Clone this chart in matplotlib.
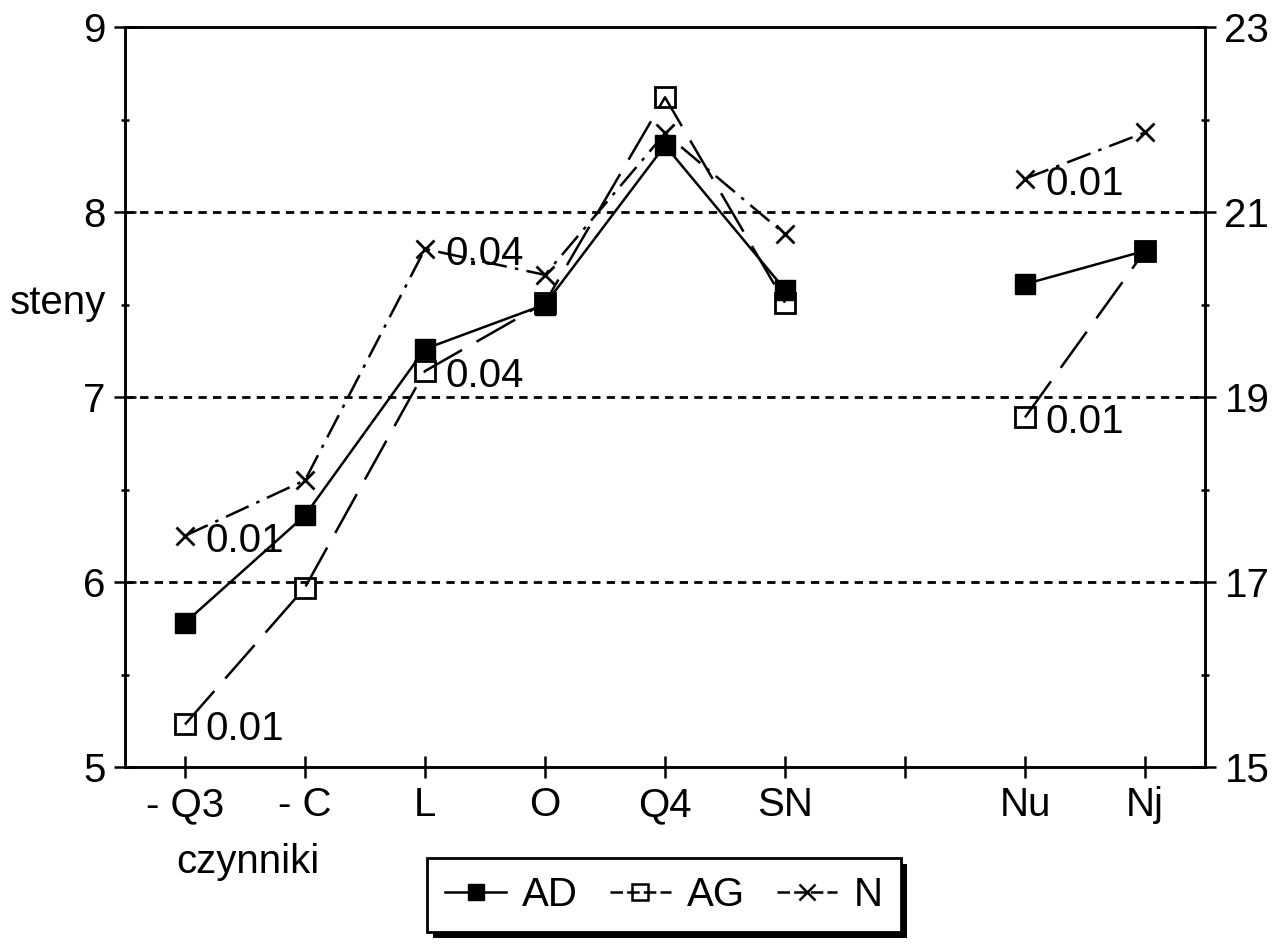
import numpy as np
import matplotlib
matplotlib.use("Agg")
import matplotlib.pyplot as plt
from matplotlib.ticker import FixedLocator
from matplotlib.lines import Line2D
from matplotlib.patches import Rectangle

plt.rcParams['font.family'] = ['Liberation Sans', 'DejaVu Sans']
plt.rcParams['lines.scale_dashes'] = False

# ---- data ----
categories = ['- Q3', '- C', 'L', 'O', 'Q4', 'SN', '', 'Nu', 'Nj']
AD = [5.78, 6.36, 7.26, 7.50, 8.36, 7.58, np.nan, 7.61, 7.79]
AG = [5.23, 5.97, 7.14, 7.51, 8.62, 7.51, np.nan, 6.89, 7.79]
N = [17.5, 18.1, 20.6, 20.32, 21.85, 20.76, np.nan, 21.36, 21.86]
left_ticks = [5, 6, 7, 8, 9]
right_ticks = [15, 17, 19, 21, 23]
grid_levels = [6, 7, 8]
# annotations: (series, category index, text)
notes = [('N', 0, '0.01'), ('AG', 0, '0.01'), ('N', 2, '0.04'),
         ('AG', 2, '0.04'), ('N', 7, '0.01'), ('AG', 7, '0.01')]

FS = 29
fig = plt.figure(figsize=(12.72, 9.44), dpi=100)
ax = fig.add_axes([125/1272, 1-767/944, (1205-125)/1272, (767-27)/944])
ax2 = ax.twinx()

x = np.arange(len(categories))

for lv in grid_levels:
    ax.axhline(lv, color='black', lw=2, dashes=(6, 4.5), zorder=0.5)

l_ad, = ax.plot(x, AD, color='black', lw=1.8, marker='s', ms=14,
                mfc='black', mec='black', zorder=3)
l_ag, = ax.plot(x, AG, color='black', lw=1.8, dashes=(32, 12), marker='s',
                ms=14, mfc='none', mec='black', mew=2, zorder=3)
l_n, = ax2.plot(x, N, color='black', lw=1.8, dashes=(18, 6, 2.5, 6),
                marker='x', ms=13, mew=2, zorder=3)

ax.set_xlim(-0.5, 8.5)
ax.set_ylim(5, 9)
ax2.set_ylim(15, 23)

ax.set_xticks(x)
ax.set_xticklabels(categories, fontsize=FS)
ax.yaxis.set_major_locator(FixedLocator(left_ticks))
ax.yaxis.set_minor_locator(FixedLocator([5.5, 6.5, 7.5, 8.5]))
ax.set_yticklabels([str(v) for v in left_ticks], fontsize=FS)
ax2.yaxis.set_major_locator(FixedLocator(right_ticks))
ax2.yaxis.set_minor_locator(FixedLocator([16, 18, 20, 22]))
ax2.set_yticklabels([str(v) for v in right_ticks], fontsize=FS)

ax.tick_params(axis='x', direction='inout', length=16, width=1.8, pad=6)
ax.tick_params(axis='y', which='major', direction='inout', length=16, width=1.8, pad=6)
ax.tick_params(axis='y', which='minor', direction='inout', length=6, width=1.8)
ax2.tick_params(axis='y', which='major', direction='inout', length=16, width=1.8, pad=6)
ax2.tick_params(axis='y', which='minor', direction='inout', length=6, width=1.8)

for a in (ax, ax2):
    for s in a.spines.values():
        s.set_linewidth(1.8)

series_axes = {'AD': (ax, AD), 'AG': (ax, AG), 'N': (ax2, N)}
for name, i, txt in notes:
    a, vals = series_axes[name]
    a.annotate(txt, xy=(x[i], vals[i]), xytext=(20, -5), textcoords='offset pixels',
               fontsize=FS, ha='left', va='center', zorder=4)

fig.text(10/1272, 1-303/944, 'steny', fontsize=FS, ha='left', va='center')
fig.text(248/1272, 1-862/944, 'czynniki', fontsize=FS, ha='center', va='center')

h_ad = Line2D([], [], color='black', lw=1.8, marker='s', ms=12, mfc='black')
h_ag = Line2D([], [], color='black', lw=1.8, dashes=(9, 3), marker='s', ms=12,
              mfc='none', mew=1.8)
h_n = Line2D([], [], color='black', lw=1.8, dashes=(9, 3), marker='x', ms=12, mew=1.8)
leg = fig.legend([h_ad, h_ag, h_n], ['AD', 'AG', 'N'], loc='center',
                 bbox_to_anchor=(664/1272, 1-895/944), ncol=3, fontsize=FS,
                 frameon=True, fancybox=False, edgecolor='black', framealpha=1,
                 handlelength=1.5, handletextpad=0.4, columnspacing=0.8,
                 borderpad=0.45, borderaxespad=0)
leg.get_frame().set_linewidth(2)
leg.set_zorder(5)

fig.canvas.draw()
bb = leg.get_window_extent()
shadow = Rectangle((bb.x0 + 6, bb.y0 - 6), bb.width, bb.height,
                   transform=None, facecolor='black', edgecolor='none', zorder=4)
fig.add_artist(shadow)

fig.savefig('out.png', dpi=100)
